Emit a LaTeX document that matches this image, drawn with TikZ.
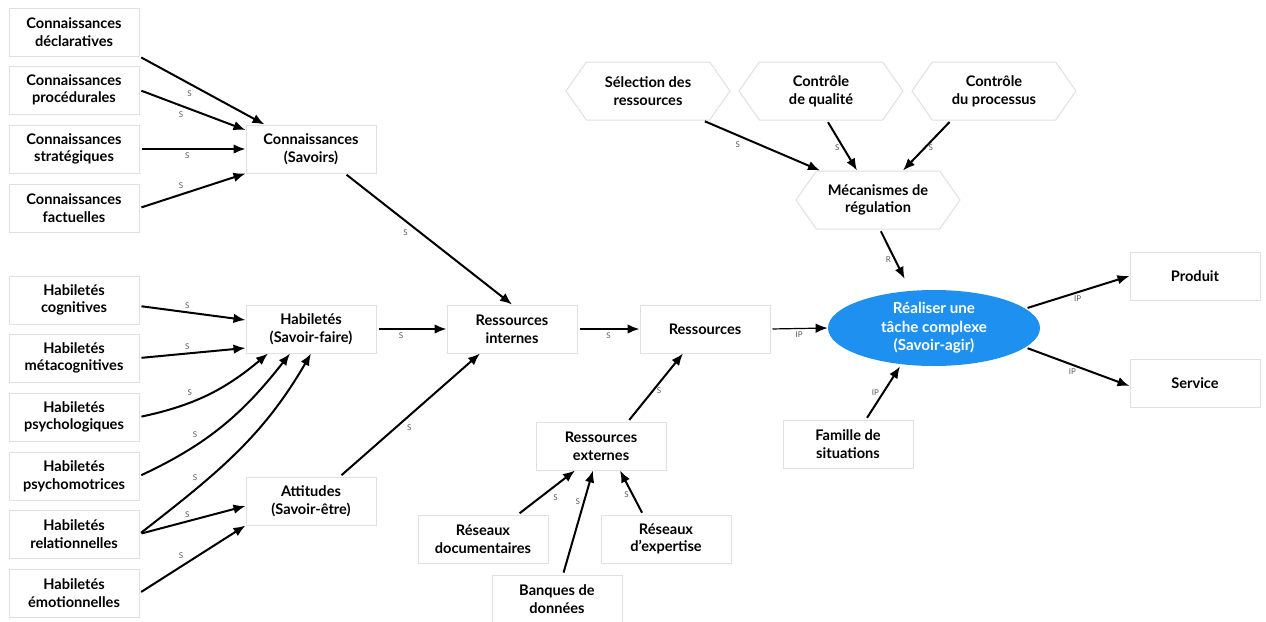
\documentclass[tikz,border=0pt]{standalone}
\usepackage{fontspec}
\setmainfont{Lato}
\usetikzlibrary{positioning,arrows.meta,shapes.symbols,shapes.geometric}
\definecolor{taskblue}{RGB}{30,144,240}

\begin{document}
\begin{tikzpicture}[
  x=0.5pt,y=-0.5pt,
  box/.style={draw=black!12,line width=0.5pt,fill=white,minimum width=65pt,minimum height=24pt,align=center,inner sep=1pt,font=\fontsize{7.3}{8.8}\selectfont\bfseries,text=black},
  hexa/.style={box,shape=signal,signal to=east and west,signal pointer angle=110,minimum width=82pt,minimum height=29pt},
  taskel/.style={ellipse,fill=taskblue,draw=none,minimum width=106pt,minimum height=38pt,inner sep=0pt,align=center,text=white,font=\fontsize{7.6}{9.2}\selectfont\bfseries},
  arr/.style={-{Latex[length=6pt,width=4.8pt]},line width=1pt,shorten <=1pt},
  lbl/.style={font=\fontsize{4}{4}\selectfont,text=black!65,inner sep=1.5pt}
]
\useasboundingbox (0,0) rectangle (1266,622);
% connaissances
\node[box] (cdecl) at (74,32) {Connaissances\\déclaratives};
\node[box] (cproc) at (74,90) {Connaissances\\procédurales};
\node[box] (cstrat) at (74,149) {Connaissances\\stratégiques};
\node[box] (cfact) at (74,208) {Connaissances\\factuelles};
\node[box] (csav) at (311,149) {Connaissances\\(Savoirs)};
% habiletes
\node[box] (hcog) at (74,300) {Habiletés\\cognitives};
\node[box] (hmeta) at (74,358) {Habiletés\\métacognitives};
\node[box] (hpsy) at (74,417) {Habiletés\\psychologiques};
\node[box] (hmot) at (74,476) {Habiletés\\psychomotrices};
\node[box] (hrel) at (74,534) {Habiletés\\relationnelles};
\node[box] (hemo) at (74,593) {Habiletés\\émotionnelles};
\node[box] (hsf) at (311,329) {Habiletés\\(Savoir-faire)};
\node[box] (att) at (311,501) {Attitudes\\(Savoir-être)};
% ressources
\node[box] (rint) at (512,329) {Ressources\\internes};
\node[box] (res) at (705,329) {Ressources};
\node[box] (rext) at (601,446) {Ressources\\externes};
\node[box] (rdoc) at (483,539) {Réseaux\\documentaires};
\node[box] (rbanq) at (557,599) {Banques de\\données};
\node[box] (rexp) at (666,539) {Réseaux\\d'expertise};
% regulation
\node[hexa] (sel) at (648,91) {Sélection des\\ressources};
\node[hexa] (qual) at (821,91) {Contrôle\\de qualité};
\node[hexa] (proc) at (994,91) {Contrôle\\du processus};
\node[hexa] (mec) at (878,200) {Mécanismes de\\régulation};
% tache
\node[taskel] (task) at (934,328) {Réaliser une\\tâche complexe\\(Savoir-agir)};
\node[box] (fam) at (848,444) {Famille de\\situations};
\node[box] (prod) at (1195,276) {Produit};
\node[box] (serv) at (1195,383) {Service};

\draw[arr] (cdecl.south east) -- node[lbl,below left,pos=0.45] {S} ([xshift=9.5pt]csav.north west);
\draw[arr] (cproc.east) -- node[lbl,below left,pos=0.45] {S} ([yshift=9.5pt]csav.west);
\draw[arr] (cstrat.east) -- node[lbl,below,pos=0.45] {S} (csav.west);
\draw[arr] (cfact.east) -- node[lbl,above left,pos=0.45] {S} (csav.south west);
\draw[arr] ([xshift=17pt]csav.south) -- node[lbl,below left,pos=0.4] {S} (rint.north);

\draw[arr] ([yshift=-3pt]hcog.east) -- node[lbl,above,pos=0.45] {S} ([yshift=4.5pt]hsf.west);
\draw[arr] (hmeta.east) -- node[lbl,above,pos=0.45] {S} ([yshift=-9.5pt]hsf.west);
\draw[arr] (hpsy.east) to[out=12,in=-140] node[lbl,above left,pos=0.4] {S} ([xshift=-21.5pt]hsf.south);
\draw[arr] (hmot.east) to[out=25,in=-128] node[lbl,above left,pos=0.35] {S} ([xshift=-10.5pt]hsf.south);
\draw[arr] (hrel.east) to[out=38,in=-120] node[lbl,above left,pos=0.3] {S} (hsf.south);
\draw[arr] (hrel.east) -- node[lbl,above,pos=0.45] {S} ([yshift=-2.5pt]att.west);
\draw[arr] (hemo.east) -- node[lbl,above left,pos=0.45] {S} (att.south west);
\draw[arr] (hsf.east) -- node[lbl,below,pos=0.35] {S} (rint.west);
\draw[arr] ([xshift=14.5pt]att.north) -- node[lbl,below right,pos=0.45] {S} ([xshift=-16pt]rint.south);

\draw[arr] (rint.east) -- node[lbl,below] {S} (res.west);
\draw[arr] ([xshift=13.5pt]rext.north) -- node[lbl,right,pos=0.45] {S} ([xshift=-11pt]res.south);
\draw[arr] ([xshift=17.5pt]rdoc.north) -- node[lbl,below right,pos=0.55] {S} ([xshift=-13pt]rext.south);
\draw[arr] ([xshift=3pt]rbanq.north) -- node[lbl,left,pos=0.7] {S} ([xshift=-4pt]rext.south);
\draw[arr] ([xshift=-11.5pt]rexp.north) -- node[lbl,left,pos=0.45] {S} ([xshift=9.5pt]rext.south);
\draw[arr,line width=0.6pt] (res.east) -- node[lbl,below] {IP} (task.west);

\draw[arr] ([xshift=27.5pt]sel.south) -- node[lbl,below left,pos=0.35] {S} ([xshift=-29pt]mec.north);
\draw[arr] ([xshift=3pt]qual.south) -- node[lbl,left,pos=0.55] {S} ([xshift=-10.5pt]mec.north);
\draw[arr] ([xshift=-21.5pt]proc.south) -- node[lbl,right,pos=0.55] {S} ([xshift=12.5pt]mec.north);
\draw[arr,shorten >=6pt] ([xshift=1pt]mec.south) -- node[lbl,left,pos=0.5] {R} ([xshift=-12pt]task.north);
\draw[arr] ([xshift=9pt]fam.north) -- node[lbl,left,pos=0.5] {IP} ([xshift=-17pt]task.south);
\draw[arr] (task.12) -- node[lbl,below,pos=0.5] {IP} (prod.west);
\draw[arr] (task.-12) -- node[lbl,below,pos=0.45] {IP} ([yshift=-1.5pt]serv.west);
\end{tikzpicture}
\end{document}
